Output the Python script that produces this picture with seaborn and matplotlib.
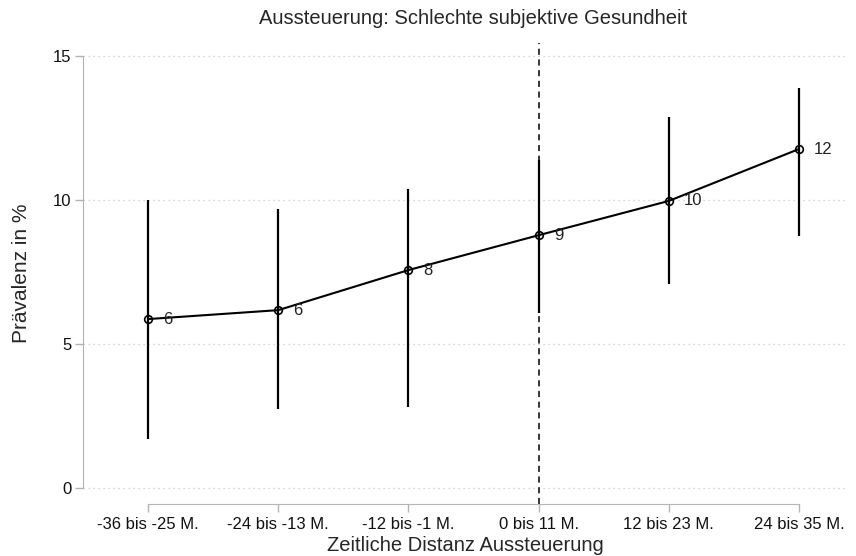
import pandas as pd
import matplotlib
matplotlib.use("Agg")
import matplotlib.pyplot as plt
import seaborn as sns

categories = ["-36 bis -25 M.", "-24 bis -13 M.", "-12 bis -1 M.",
              "0 bis 11 M.", "12 bis 23 M.", "24 bis 35 M."]
prevalence = [5.87, 6.18, 7.57, 8.78, 9.97, 11.77]
ci_low = [1.69, 2.74, 2.81, 6.09, 7.07, 8.75]
ci_high = [10.02, 9.69, 10.37, 11.39, 12.90, 13.89]
point_labels = ["6", "6", "8", "9", "10", "12"]
y_ticks = [0, 5, 10, 15]

df = pd.DataFrame({"pos": range(len(categories)), "prev": prevalence,
                   "lo": ci_low, "hi": ci_high, "lab": point_labels})

sns.set_style("white")
plt.rcParams["font.family"] = ["Liberation Sans", "DejaVu Sans"]

fig = plt.figure(figsize=(8.56, 5.56), dpi=100)
ax = fig.add_axes([0.097, 0.0935, 0.894, 0.829])

ylo, yhi = -0.55, 15.45
ax.set_xlim(-0.5, 5.38)
ax.set_ylim(ylo, yhi)

# dotted horizontal grid
for t in y_ticks:
    ax.axhline(t, color="#c8c8c8", linestyle=(0, (1, 3)), linewidth=0.9, zorder=0)

# reference line at the event
ax.axvline(3, color="black", linestyle=(0, (4, 3)), linewidth=1.1, zorder=1)

# confidence intervals
ax.vlines(df["pos"], df["lo"], df["hi"], color="black", linewidth=1.6, zorder=2)

sns.lineplot(data=df, x="pos", y="prev", color="black", linewidth=1.5,
             marker="o", markersize=5.5, markerfacecolor="none",
             markeredgecolor="black", markeredgewidth=1.2, ax=ax, zorder=3)

for _, r in df.iterrows():
    ax.annotate(r["lab"], (r["pos"], r["prev"]), xytext=(11, 0),
                textcoords="offset points", va="center", ha="left",
                fontsize=12, color="#222222")

ax.spines["top"].set_visible(False)
ax.spines["right"].set_visible(False)
ax.spines["left"].set_color("#b4b4b4")
ax.spines["bottom"].set_color("#b4b4b4")
ax.spines["left"].set_bounds(0, 15)
ax.spines["bottom"].set_bounds(0, 5)

ax.set_yticks(y_ticks)
ax.set_yticklabels([str(t) for t in y_ticks])
ax.set_xticks(df["pos"])
ax.set_xticklabels(categories)
ax.tick_params(axis="both", which="major", bottom=True, left=True,
               direction="out", length=5.5, width=1,
               color="#b4b4b4", labelsize=12, labelcolor="#111111", pad=3)
ax.tick_params(axis="x", length=6, pad=3)

ax.set_title("Aussteuerung: Schlechte subjektive Gesundheit", fontsize=14.5, pad=14,
             x=0.51)
ax.set_xlabel("Zeitliche Distanz Aussteuerung", fontsize=14.5, labelpad=3)
ax.set_ylabel("Prävalenz in %", fontsize=15, labelpad=16)

fig.savefig("out.png", dpi=100)
